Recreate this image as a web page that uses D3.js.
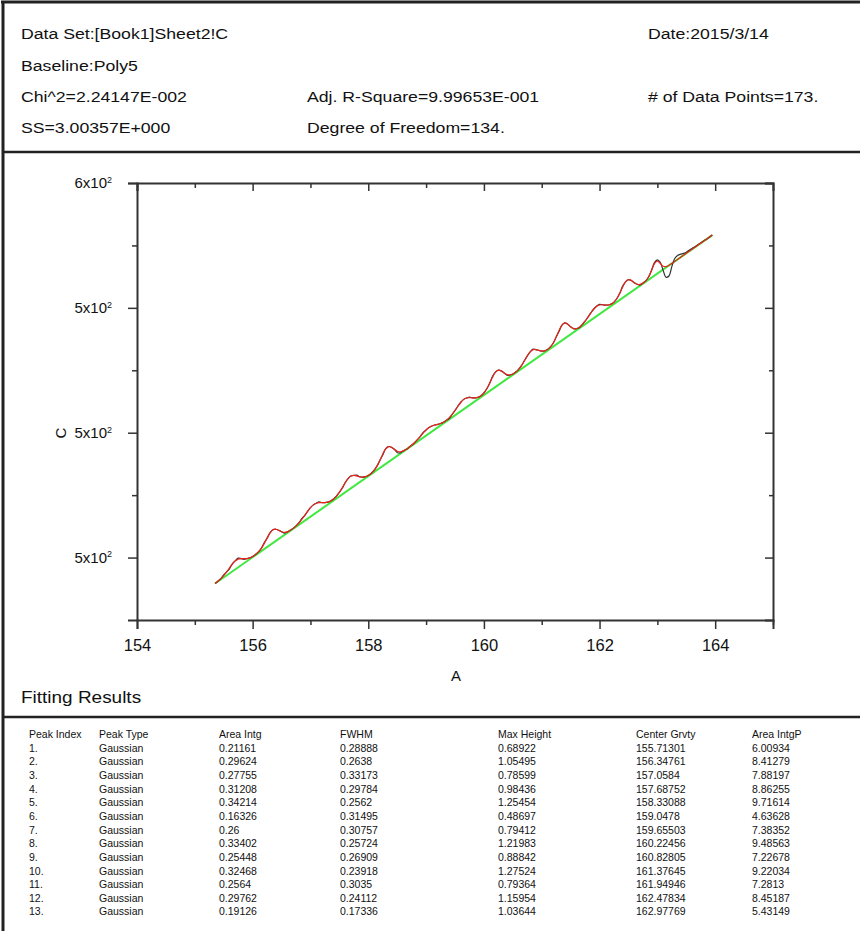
<!DOCTYPE html>
<html>
<head>
<meta charset="utf-8">
<script src="https://cdn.jsdelivr.net/npm/d3@7"></script>
<style>
  body { margin: 0; background: #fff; }
  text { font-family: "Liberation Sans", Arial, sans-serif; fill: #111; }
</style>
</head>
<body>
<svg id="chart"></svg>
<script>
const width = 860;
const height = 931;

// Report header
const headerRows = [
  ["Data Set:[Book1]Sheet2!C", "", "Date:2015/3/14"],
  ["Baseline:Poly5", "", ""],
  ["Chi^2=2.24147E-002", "Adj. R-Square=9.99653E-001", "# of Data Points=173."],
  ["SS=3.00357E+000", "Degree of Freedom=134.", ""]
];

// Measured series: A runs from 155.35 in steps of 0.05 (173 points)
const aStart = 155.35;
const aStep = 0.05;

const rawC = [
  517.93, 518.11, 518.31, 518.62, 518.85, 519.10, 519.50, 519.74, 519.95, 519.92,
  519.86, 519.92, 519.98, 520.08, 520.24, 520.45, 520.74, 521.18, 521.56, 521.97,
  522.22, 522.27, 522.19, 522.07, 521.96, 522.06, 522.18, 522.34, 522.54, 522.77,
  523.12, 523.37, 523.70, 524.00, 524.22, 524.35, 524.46, 524.40, 524.40, 524.44,
  524.53, 524.69, 524.92, 525.23, 525.55, 525.99, 526.33, 526.53, 526.58, 526.60,
  526.47, 526.44, 526.48, 526.58, 526.74, 526.98, 527.32, 527.78, 528.22, 528.70,
  528.89, 528.84, 528.67, 528.42, 528.38, 528.53, 528.65, 528.81, 528.99, 529.20,
  529.44, 529.70, 530.03, 530.22, 530.41, 530.54, 530.62, 530.67, 530.74, 530.84,
  530.99, 531.14, 531.46, 531.78, 532.12, 532.44, 532.67, 532.78, 532.86, 532.79,
  532.79, 532.84, 532.96, 533.18, 533.52, 533.97, 534.52, 534.85, 535.01, 534.95,
  534.78, 534.60, 534.62, 534.70, 534.86, 535.08, 535.38, 535.76, 536.15, 536.47,
  536.70, 536.66, 536.59, 536.54, 536.56, 536.66, 536.87, 537.19, 537.66, 538.12,
  538.62, 538.79, 538.69, 538.48, 538.34, 538.33, 538.40, 538.66, 538.93, 539.26,
  539.60, 539.91, 540.13, 540.28, 540.25, 540.22, 540.23, 540.30, 540.46, 540.75,
  541.17, 541.74, 542.08, 542.26, 542.19, 542.02, 541.89, 541.82, 541.98, 542.16,
  542.49, 543.01, 543.62, 543.85, 543.65, 543.00, 542.45, 542.55, 543.30, 543.95,
  544.20, 544.30, 544.36, 544.46, 544.62, 544.76, 544.90, 545.05, 545.20, 545.36,
  545.50, 545.66, 545.84
];

const fitC = [
  517.93, 518.11, 518.31, 518.56, 518.85, 519.18, 519.50, 519.74, 519.88, 519.92,
  519.91, 519.92, 519.98, 520.08, 520.24, 520.45, 520.74, 521.12, 521.56, 521.97,
  522.22, 522.27, 522.19, 522.07, 522.02, 522.06, 522.18, 522.34, 522.54, 522.77,
  523.05, 523.37, 523.70, 524.00, 524.22, 524.35, 524.40, 524.40, 524.40, 524.44,
  524.53, 524.69, 524.92, 525.23, 525.60, 525.99, 526.33, 526.53, 526.58, 526.54,
  526.47, 526.44, 526.48, 526.58, 526.74, 526.98, 527.32, 527.78, 528.28, 528.70,
  528.89, 528.84, 528.67, 528.52, 528.47, 528.53, 528.65, 528.81, 528.99, 529.20,
  529.44, 529.70, 529.97, 530.22, 530.41, 530.54, 530.62, 530.67, 530.74, 530.84,
  530.99, 531.20, 531.46, 531.78, 532.12, 532.44, 532.67, 532.78, 532.81, 532.79,
  532.79, 532.84, 532.96, 533.18, 533.52, 533.97, 534.46, 534.85, 535.01, 534.95,
  534.78, 534.65, 534.62, 534.70, 534.86, 535.08, 535.38, 535.76, 536.15, 536.47,
  536.64, 536.66, 536.59, 536.54, 536.56, 536.66, 536.87, 537.19, 537.66, 538.19,
  538.62, 538.79, 538.69, 538.48, 538.34, 538.33, 538.45, 538.66, 538.93, 539.26,
  539.60, 539.91, 540.13, 540.23, 540.25, 540.22, 540.23, 540.30, 540.46, 540.75,
  541.17, 541.67, 542.08, 542.26, 542.19, 542.02, 541.89, 541.88, 541.98, 542.16,
  542.49, 543.01, 543.55, 543.74, 543.55, 543.33, 543.30, 543.40, 543.56, 543.72,
  543.88, 544.04, 544.21, 544.37, 544.53, 544.69, 544.85, 545.02, 545.18, 545.34,
  545.50, 545.67, 545.83
];

// Poly5 baseline (drawn straight between its ends)
const baselineA = [155.35, 163.95];
const baselineC = [517.92, 545.83];

// Axis ticks
const xMajor = [154, 156, 158, 160, 162, 164];
const xMinor = [155, 157, 159, 161, 163, 165];
const yMajor = [520, 530, 540, 550];
const yMinor = [525, 535, 545];
const yTickMantissa = ["5", "5", "5", "6"];

// Fitting results table
const tableHeads = ["Peak Index", "Peak Type", "Area Intg", "FWHM", "Max Height", "Center Grvty", "Area IntgP"];
const peakIndex = ["1.", "2.", "3.", "4.", "5.", "6.", "7.", "8.", "9.", "10.", "11.", "12.", "13."];
const peakType = Array(13).fill("Gaussian");
const areaIntg = ["0.21161", "0.29624", "0.27755", "0.31208", "0.34214", "0.16326", "0.26",
  "0.33402", "0.25448", "0.32468", "0.2564", "0.29762", "0.19126"];
const fwhm = ["0.28888", "0.2638", "0.33173", "0.29784", "0.2562", "0.31495", "0.30757",
  "0.25724", "0.26909", "0.23918", "0.3035", "0.24112", "0.17336"];
const maxHeight = ["0.68922", "1.05495", "0.78599", "0.98436", "1.25454", "0.48697", "0.79412",
  "1.21983", "0.88842", "1.27524", "0.79364", "1.15954", "1.03644"];
const centerGrvty = ["155.71301", "156.34761", "157.0584", "157.68752", "158.33088", "159.0478", "159.65503",
  "160.22456", "160.82805", "161.37645", "161.94946", "162.47834", "162.97769"];
const areaIntgP = ["6.00934", "8.41279", "7.88197", "8.86255", "9.71614", "4.63628", "7.38352",
  "9.48563", "7.22678", "9.22034", "7.2813", "8.45187", "5.43149"];

const svg = d3.select("#chart").attr("width", width).attr("height", height);

// Frame lines of the report
const frameColor = "#222";
svg.append("line").attr("x1", 3).attr("x2", 3).attr("y1", 1).attr("y2", height)
  .attr("stroke", frameColor).attr("stroke-width", 3);
svg.append("line").attr("x1", 1).attr("x2", width).attr("y1", 2).attr("y2", 2)
  .attr("stroke", frameColor).attr("stroke-width", 3);
svg.append("line").attr("x1", 3).attr("x2", width).attr("y1", 152).attr("y2", 152)
  .attr("stroke", frameColor).attr("stroke-width", 2.5);
svg.append("line").attr("x1", 3).attr("x2", width).attr("y1", 717).attr("y2", 717)
  .attr("stroke", frameColor).attr("stroke-width", 2.5);

// Header text (slightly wide lettering, as in the printed report)
const colX = [21, 307, 648];
const rowY = [39, 71, 102, 133];
headerRows.forEach((row, r) => {
  row.forEach((t, c) => {
    if (!t) return;
    svg.append("text")
      .attr("transform", `translate(${colX[c]},${rowY[r]}) scale(1.14,1)`)
      .attr("font-size", 15.5).text(t);
  });
});

// Plot area
const plotLeft = 137, plotRight = 773, plotTop = 183, plotBottom = 620;
const x = d3.scaleLinear().domain([154, 165]).range([plotLeft, plotRight]);
const y = d3.scaleLinear().domain([515, 550]).range([plotBottom, plotTop]);

const axisColor = "#333";
function styleAxis(g, size) {
  g.select(".domain").attr("stroke", axisColor).attr("stroke-width", 2);
  g.selectAll(".tick line").attr("stroke", axisColor).attr("stroke-width", 1.5);
  g.selectAll(".tick text").attr("font-size", size || 16.5).attr("fill", "#111");
}

// bottom
svg.append("g").attr("transform", `translate(0,${plotBottom})`)
  .call(d3.axisBottom(x).tickValues(xMajor).tickSize(9).tickPadding(10).tickFormat(d3.format("d")))
  .call(styleAxis);
svg.append("g").attr("transform", `translate(0,${plotBottom})`)
  .call(d3.axisBottom(x).tickValues(xMinor).tickSize(5).tickFormat(""))
  .call(styleAxis).select(".domain").remove();
// top
svg.append("g").attr("transform", `translate(0,${plotTop})`)
  .call(d3.axisBottom(x).tickValues(xMajor).tickSize(8).tickFormat(""))
  .call(styleAxis);
svg.append("g").attr("transform", `translate(0,${plotTop})`)
  .call(d3.axisBottom(x).tickValues(xMinor.slice(0, -1)).tickSize(5).tickFormat(""))
  .call(styleAxis).select(".domain").remove();

// left
const yAxisG = svg.append("g").attr("transform", `translate(${plotLeft},0)`)
  .call(d3.axisLeft(y).tickValues(yMajor).tickSize(9).tickPadding(11).tickFormat((d, i) => yTickMantissa[i] + "x10"))
  .call(g => styleAxis(g, 15));
yAxisG.selectAll(".tick text").attr("dx", -5)
  .append("tspan").attr("dy", "-0.6em").attr("font-size", 9).text("2");
svg.append("g").attr("transform", `translate(${plotLeft},0)`)
  .call(d3.axisLeft(y).tickValues(yMinor).tickSize(5).tickFormat(""))
  .call(styleAxis).select(".domain").remove();
// right
svg.append("g").attr("transform", `translate(${plotRight},0)`)
  .call(d3.axisRight(y).tickValues(yMajor).tickSize(-8).tickFormat(""))
  .call(styleAxis);
svg.append("g").attr("transform", `translate(${plotRight},0)`)
  .call(d3.axisRight(y).tickValues(yMinor).tickSize(-4).tickFormat(""))
  .call(styleAxis).select(".domain").remove();

// Axis titles
svg.append("text").attr("x", (plotLeft + plotRight) / 2 + 1).attr("y", 681)
  .attr("text-anchor", "middle").attr("font-size", 15).text("A");
svg.append("text").attr("transform", "translate(66,433) rotate(-90)")
  .attr("text-anchor", "middle").attr("font-size", 15).text("C");

// Curves
const aOf = i => aStart + i * aStep;
const line = d3.line().x(d => x(d[0])).y(d => y(d[1])).curve(d3.curveCatmullRom);

svg.append("path")
  .datum(baselineA.map((a, i) => [a, baselineC[i]]))
  .attr("d", d3.line().x(d => x(d[0])).y(d => y(d[1])))
  .attr("fill", "none").attr("stroke", "#3fe83f").attr("stroke-width", 2);

svg.append("path")
  .datum(rawC.map((c, i) => [aOf(i), c]))
  .attr("d", line)
  .attr("fill", "none").attr("stroke", "#333").attr("stroke-width", 1.2);

svg.append("path")
  .datum(fitC.map((c, i) => [aOf(i), c]))
  .attr("d", line)
  .attr("fill", "none").attr("stroke", "#e8261c").attr("stroke-width", 1.2);

// Fitting results
svg.append("text").attr("transform", "translate(21,703) scale(1.15,1)")
  .attr("font-size", 16.5).text("Fitting Results");

const tableCols = [peakIndex, peakType, areaIntg, fwhm, maxHeight, centerGrvty, areaIntgP];
const tableX = [29, 99, 219, 340, 498, 636, 752];
const headY = 738;
const rowStep = 13.65;
tableHeads.forEach((h, c) => {
  svg.append("text").attr("x", tableX[c]).attr("y", headY).attr("font-size", 10.5).text(h);
});
tableCols.forEach((col, c) => {
  svg.append("g").selectAll("text")
    .data(col)
    .enter()
    .append("text")
    .attr("x", tableX[c])
    .attr("y", (d, i) => headY + rowStep * (i + 1))
    .attr("font-size", 10.5)
    .text(d => d);
});
</script>
</body>
</html>
